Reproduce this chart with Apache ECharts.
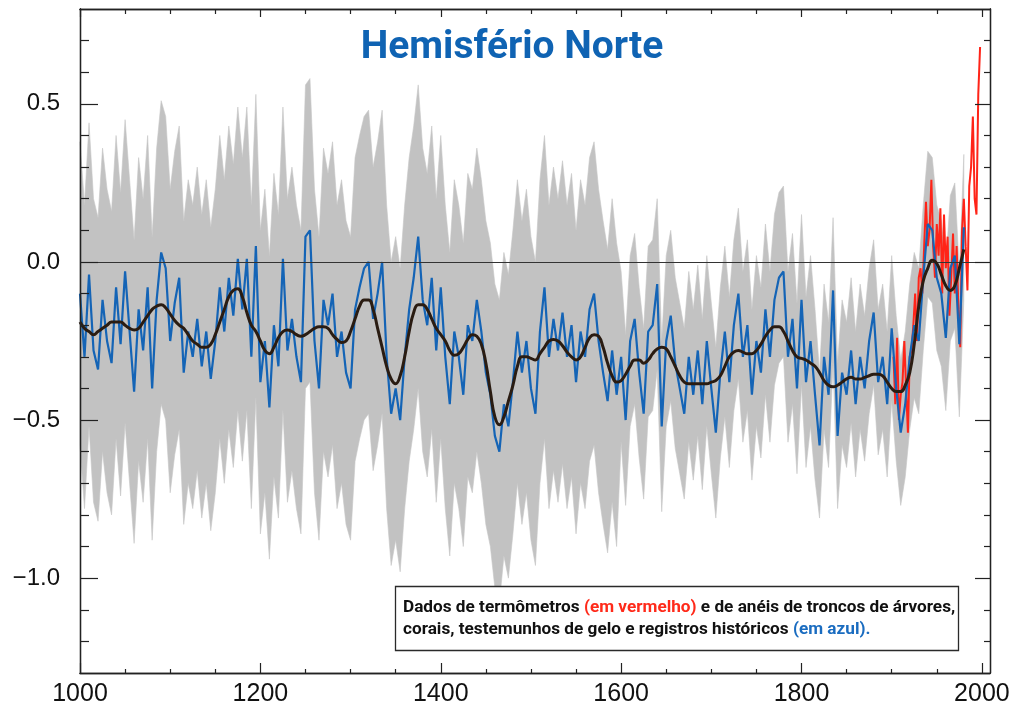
<!DOCTYPE html>
<html><head><meta charset="utf-8">
<script src="https://cdn.jsdelivr.net/npm/echarts@6/dist/echarts.min.js"></script>
<style>html,body{margin:0;padding:0;background:#fff}#c{width:1024px;height:715px}</style>
</head><body><div id="c"></div>
<script>
// ---- data ----
const blueStartYear = 1000, blueStepYears = 5;
const blueValues = [
 -0.10,-0.30,-0.04,-0.28,-0.34,-0.12,-0.25,-0.32,-0.08,-0.26,
 -0.03,-0.22,-0.41,-0.15,-0.28,-0.08,-0.40,-0.12, 0.03,-0.02,
 -0.25,-0.13,-0.05,-0.35,-0.22,-0.30,-0.18,-0.33,-0.22,-0.37,
 -0.25,-0.08,-0.22,-0.05,-0.17, 0.01,-0.15, 0.01,-0.30, 0.05,
 -0.38,-0.25,-0.46,-0.20,-0.33, 0.01,-0.28,-0.18,-0.30,-0.38,
  0.08, 0.10,-0.25,-0.40,-0.12,-0.20,-0.10,-0.30,-0.22,-0.35,
 -0.40,-0.15,-0.08,-0.02, 0.00,-0.18,-0.10, 0.00,-0.30,-0.48,
 -0.40,-0.50,-0.30,-0.15,-0.05, 0.08,-0.12,-0.20,-0.05,-0.28,
 -0.08,-0.30,-0.45,-0.22,-0.30,-0.42,-0.20,-0.25,-0.12,-0.22,
 -0.35,-0.42,-0.55,-0.60,-0.45,-0.52,-0.38,-0.22,-0.35,-0.25,
 -0.40,-0.48,-0.22,-0.08,-0.30,-0.18,-0.28,-0.16,-0.30,-0.20,
 -0.38,-0.22,-0.30,-0.15,-0.10,-0.25,-0.35,-0.44,-0.28,-0.42,
 -0.30,-0.50,-0.25,-0.18,-0.35,-0.48,-0.22,-0.20,-0.07,-0.52,
 -0.25,-0.17,-0.32,-0.40,-0.48,-0.30,-0.42,-0.28,-0.45,-0.25,
 -0.40,-0.54,-0.35,-0.22,-0.38,-0.20,-0.10,-0.30,-0.20,-0.42,
 -0.25,-0.35,-0.15,-0.30,-0.12,-0.05,-0.03,-0.30,-0.18,-0.40,
 -0.12,-0.38,-0.25,-0.42,-0.58,-0.30,-0.42,-0.09,-0.55,-0.35,
 -0.42,-0.28,-0.45,-0.30,-0.40,-0.25,-0.16,-0.38,-0.30,-0.45,
 -0.21,-0.40,-0.54,-0.45,-0.30,-0.20,-0.25,-0.05, 0.12, 0.10,
 -0.05,-0.10,-0.24,-0.02, 0.02,-0.26, 0.11
];
const smoothStartYear = 1000, smoothStepYears = 5;
const smoothValues = [
 -0.19,-0.21,-0.22,-0.23,-0.22,-0.21,-0.20,-0.19,-0.19,-0.19,
 -0.20,-0.21,-0.215,-0.21,-0.19,-0.17,-0.15,-0.14,-0.135,-0.145,
 -0.165,-0.185,-0.20,-0.21,-0.23,-0.25,-0.26,-0.27,-0.27,-0.26,
 -0.23,-0.19,-0.15,-0.11,-0.09,-0.085,-0.11,-0.16,-0.20,-0.22,
 -0.25,-0.28,-0.29,-0.27,-0.24,-0.22,-0.215,-0.22,-0.23,-0.235,
 -0.23,-0.22,-0.21,-0.205,-0.205,-0.21,-0.23,-0.245,-0.255,-0.25,
 -0.22,-0.18,-0.14,-0.12,-0.12,-0.15,-0.21,-0.27,-0.33,-0.37,
 -0.385,-0.36,-0.30,-0.22,-0.16,-0.135,-0.135,-0.15,-0.18,-0.21,
 -0.23,-0.25,-0.28,-0.295,-0.29,-0.27,-0.245,-0.23,-0.235,-0.26,
 -0.32,-0.41,-0.49,-0.515,-0.49,-0.44,-0.39,-0.33,-0.30,-0.30,
 -0.305,-0.31,-0.29,-0.27,-0.25,-0.245,-0.25,-0.265,-0.285,-0.30,
 -0.31,-0.30,-0.27,-0.24,-0.23,-0.235,-0.27,-0.32,-0.36,-0.38,
 -0.375,-0.355,-0.33,-0.31,-0.31,-0.32,-0.31,-0.29,-0.275,-0.27,
 -0.275,-0.30,-0.33,-0.36,-0.38,-0.385,-0.385,-0.385,-0.385,-0.385,
 -0.38,-0.375,-0.36,-0.33,-0.30,-0.285,-0.28,-0.285,-0.29,-0.29,
 -0.28,-0.26,-0.235,-0.215,-0.205,-0.205,-0.22,-0.25,-0.28,-0.30,
 -0.305,-0.31,-0.32,-0.33,-0.35,-0.375,-0.39,-0.395,-0.39,-0.38,
 -0.37,-0.365,-0.37,-0.37,-0.365,-0.36,-0.355,-0.355,-0.36,-0.38,
 -0.40,-0.41,-0.41,-0.39,-0.35,-0.26,-0.14,-0.06,-0.02, 0.005,
 -0.005,-0.04,-0.075,-0.09,-0.075,-0.02, 0.04
];
const redStartYear = 1902, redStepYears = 2;
const redValues = [
 -0.30,-0.45,-0.24,-0.50,-0.42,-0.38,-0.25,-0.40,-0.54,-0.30,
 -0.28,-0.20,-0.10,-0.25,-0.05,-0.02,-0.10, 0.05, 0.19, 0.05,
  0.10, 0.26, 0.05,-0.05, 0.12, 0.02, 0.17,-0.10, 0.15,-0.02,
  0.08,-0.17,-0.05, 0.09,-0.10, 0.05,-0.15,-0.27, 0.10, 0.20,
  0.05,-0.09, 0.24, 0.30, 0.46, 0.20, 0.15, 0.53, 0.68
];
// 2-sigma uncertainty (half width of grey band), by period start year
const uncertaintyFromYear = [1000, 1600, 1820];
const uncertaintyValues = [0.48, 0.27, 0.23];

const xMajorTicks = [1000, 1200, 1400, 1600, 1800, 2000];
const xMinorTicks = [1050,1100,1150,1250,1300,1350,1450,1500,1550,1650,1700,1750,1850,1900,1950];
const yMajorTicks = [-1.0, -0.5, 0.0, 0.5];
const yMinorTicks = [-1.2,-1.1,-0.9,-0.8,-0.7,-0.6,-0.4,-0.3,-0.2,-0.1,0.1,0.2,0.3,0.4,0.6,0.7];
const titleText = 'Hemisfério Norte';

// ---- build ----
function unc(year){ let u = uncertaintyValues[0]; for (let i=0;i<uncertaintyFromYear.length;i++) if (year>=uncertaintyFromYear[i]) u = uncertaintyValues[i]; return u; }
const blueData = blueValues.map((v,i)=>[blueStartYear+i*blueStepYears, v]);
const smoothData = smoothValues.map((v,i)=>[smoothStartYear+i*smoothStepYears, v]);
const redData = redValues.map((v,i)=>[redStartYear+i*redStepYears, v]);
const bandUpper = blueData.map(([x,v])=>[x, v+unc(x)]);
const bandLower = blueData.map(([x,v])=>[x, v-unc(x)]);

const AX = '#222';
const XMIN = 1000, XMAX = 2009, YMIN = -1.3, YMAX = 0.8;
function xAx(pos, ticks, len, labels){
  return {type:'value', position:pos, min:XMIN, max:XMAX, z:10,
    axisLine:{show:true, onZero:false, lineStyle:{color:AX, width:1.3}},
    axisTick:{show:true, inside:true, length:len, customValues:ticks, lineStyle:{color:AX, width:1.2}},
    axisLabel: labels ? {show:true, customValues:ticks, margin:9, color:'#111', fontSize:25, fontFamily:'Liberation Sans, Arial, sans-serif',
      formatter:v=>String(Math.round(v))} : {show:false},
    splitLine:{show:false}};
}
function yAx(pos, ticks, len, labels){
  return {type:'value', position:pos, min:YMIN, max:YMAX, z:10,
    axisLine:{show:true, onZero:false, lineStyle:{color:AX, width:1.3}},
    axisTick:{show:true, inside:true, length:len, customValues:ticks, lineStyle:{color:AX, width:1.2}},
    axisLabel: labels ? {show:true, customValues:ticks, margin:20, color:'#111', fontSize:24, fontFamily:'Liberation Sans, Arial, sans-serif',
      formatter:v=>(v<-1e-9?'\u2212':'')+Math.abs(v).toFixed(1)} : {show:false},
    splitLine:{show:false}};
}

const chart = echarts.init(document.getElementById('c'), null, {renderer:'canvas'});
chart.setOption({
  animation:false,
  backgroundColor:'#fff',
  grid:{left:80, right:34, top:9, bottom:42, outerBoundsMode:'none', containLabel:false},
  xAxis:[ xAx('bottom', xMinorTicks, 4, false), xAx('bottom', xMajorTicks, 10, true),
          xAx('top', xMinorTicks, 5, false), xAx('top', xMajorTicks, 8, false) ],
  yAxis:[ yAx('left', yMinorTicks, 9, false), yAx('left', yMajorTicks, 18, true),
          yAx('right', yMinorTicks, 6, false), yAx('right', yMajorTicks, 15, false) ],
  graphic:[
    {type:'text', z:100, style:{x:512, y:48, text:titleText, textAlign:'center', textVerticalAlign:'middle',
      fill:'#0f63b3', font:'bold 39px Roboto, "Liberation Sans", sans-serif'}},
    {type:'rect', z:100, shape:{x:395.5, y:586.5, width:563, height:64}, style:{fill:'#fff', stroke:'#2a2a2a', lineWidth:1.3}},
    {type:'text', z:101, style:{x:403, y:597,
      text:'{k|Dados de termômetros }{r|(em vermelho)}{k| e de anéis de troncos de árvores,}\n{k|corais, testemunhos de gelo e registros históricos }{b|(em azul).}',
      rich:{
        k:{fill:'#111', fontSize:17.2, fontWeight:'bold', fontFamily:'Roboto, sans-serif', lineHeight:21.5},
        r:{fill:'#ff2a1a', fontSize:17.2, fontWeight:'bold', fontFamily:'Roboto, sans-serif', lineHeight:21.5},
        b:{fill:'#1a6cc0', fontSize:17.2, fontWeight:'bold', fontFamily:'Roboto, sans-serif', lineHeight:21.5}
      }}}
  ],
  series:[
    {name:'band', type:'custom', coordinateSystem:'cartesian2d', xAxisIndex:0, yAxisIndex:0, z:1, silent:true,
     data:[[blueStartYear, 0]],
     renderItem:function(params, api){
       const pts = [];
       for (let i=0;i<bandUpper.length;i++) pts.push(api.coord(bandUpper[i]));
       for (let i=bandLower.length-1;i>=0;i--) pts.push(api.coord(bandLower[i]));
       return {type:'polygon', shape:{points:pts}, style:{fill:'#c2c2c2', stroke:'#c6c6c6', lineWidth:0.6}};
     },
     markLine:{silent:true, symbol:'none', label:{show:false}, lineStyle:{color:'#333', width:1.2, type:'solid'}, data:[{yAxis:0}]}},
    {name:'instrumental', type:'line', data:redData, symbol:'none', z:3, lineStyle:{color:'#ff2418', width:2}},
    {name:'reconstruction', type:'line', data:blueData, symbol:'none', z:4, lineStyle:{color:'#1464b6', width:2.2}},
    {name:'smooth', type:'line', data:smoothData, symbol:'none', smooth:0.5, z:5, lineStyle:{color:'#2a1c12', width:3}}
  ]
});
</script></body></html>
